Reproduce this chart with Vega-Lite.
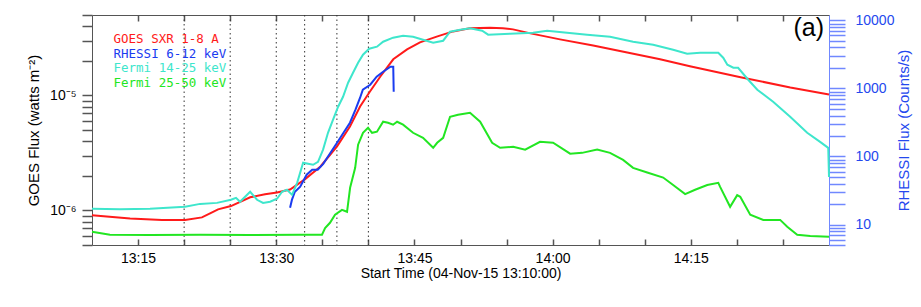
{
  "$schema": "https://vega.github.io/schema/vega-lite/v6.json",
  "width": 737,
  "height": 230,
  "autosize": {"type": "none"},
  "padding": {"left": 92, "top": 15, "right": 92, "bottom": 62},
  "background": "white",
  "config": {
    "view": {"stroke": "#555555", "strokeWidth": 1},
    "axis": {
      "labelFont": "Liberation Sans",
      "titleFont": "Liberation Sans",
      "labelFontSize": 14,
      "titleFontSize": 15,
      "titleFontWeight": "normal",
      "grid": false,
      "domain": false,
      "zindex": 2,
      "labelColor": "#000000",
      "titleColor": "#000000",
      "labelOverlap": false,
      "labelFlush": false
    },
    "legend": {
      "orient": "top-left",
      "offset": 18,
      "padding": 0,
      "title": null,
      "symbolSize": 0,
      "symbolOpacity": 0,
      "symbolStrokeWidth": 0,
      "labelOffset": -9,
      "labelFont": "DejaVu Sans Mono",
      "labelFontSize": 12.5,
      "rowPadding": 1.5,
      "labelLimit": 300
    }
  },
  "title": {
    "text": "(a)",
    "anchor": "end",
    "orient": "top",
    "frame": "group",
    "offset": -33,
    "dx": -5,
    "fontSize": 25,
    "font": "Liberation Sans",
    "fontWeight": "normal",
    "color": "#000000"
  },
  "datasets": {
    "vlines": [
      {"t": "2015-11-04T13:20:00"},
      {"t": "2015-11-04T13:25:00"},
      {"t": "2015-11-04T13:30:00"},
      {"t": "2015-11-04T13:33:05"},
      {"t": "2015-11-04T13:36:35"},
      {"t": "2015-11-04T13:40:00"}
    ],
    "goes": [
      {"t": "2015-11-04T13:10:00", "v": 9.06e-7, "s": "GOES SXR 1-8 A"},
      {"t": "2015-11-04T13:14:08", "v": 8.51e-7, "s": "GOES SXR 1-8 A"},
      {"t": "2015-11-04T13:17:36", "v": 8.26e-7, "s": "GOES SXR 1-8 A"},
      {"t": "2015-11-04T13:20:06", "v": 8.26e-7, "s": "GOES SXR 1-8 A"},
      {"t": "2015-11-04T13:21:56", "v": 8.69e-7, "s": "GOES SXR 1-8 A"},
      {"t": "2015-11-04T13:22:49", "v": 9.42e-7, "s": "GOES SXR 1-8 A"},
      {"t": "2015-11-04T13:23:41", "v": 1.02e-6, "s": "GOES SXR 1-8 A"},
      {"t": "2015-11-04T13:25:05", "v": 1.09e-6, "s": "GOES SXR 1-8 A"},
      {"t": "2015-11-04T13:27:10", "v": 1.30e-6, "s": "GOES SXR 1-8 A"},
      {"t": "2015-11-04T13:28:47", "v": 1.38e-6, "s": "GOES SXR 1-8 A"},
      {"t": "2015-11-04T13:30:05", "v": 1.43e-6, "s": "GOES SXR 1-8 A"},
      {"t": "2015-11-04T13:31:30", "v": 1.52e-6, "s": "GOES SXR 1-8 A"},
      {"t": "2015-11-04T13:33:06", "v": 1.86e-6, "s": "GOES SXR 1-8 A"},
      {"t": "2015-11-04T13:34:48", "v": 2.41e-6, "s": "GOES SXR 1-8 A"},
      {"t": "2015-11-04T13:36:36", "v": 3.6e-6, "s": "GOES SXR 1-8 A"},
      {"t": "2015-11-04T13:38:00", "v": 5.37e-6, "s": "GOES SXR 1-8 A"},
      {"t": "2015-11-04T13:39:06", "v": 8.0e-6, "s": "GOES SXR 1-8 A"},
      {"t": "2015-11-04T13:40:06", "v": 1.06e-5, "s": "GOES SXR 1-8 A"},
      {"t": "2015-11-04T13:41:18", "v": 1.46e-5, "s": "GOES SXR 1-8 A"},
      {"t": "2015-11-04T13:42:42", "v": 2.06e-5, "s": "GOES SXR 1-8 A"},
      {"t": "2015-11-04T13:44:12", "v": 2.51e-5, "s": "GOES SXR 1-8 A"},
      {"t": "2015-11-04T13:45:36", "v": 2.89e-5, "s": "GOES SXR 1-8 A"},
      {"t": "2015-11-04T13:47:30", "v": 3.26e-5, "s": "GOES SXR 1-8 A"},
      {"t": "2015-11-04T13:49:12", "v": 3.6e-5, "s": "GOES SXR 1-8 A"},
      {"t": "2015-11-04T13:51:00", "v": 3.83e-5, "s": "GOES SXR 1-8 A"},
      {"t": "2015-11-04T13:53:12", "v": 3.87e-5, "s": "GOES SXR 1-8 A"},
      {"t": "2015-11-04T13:54:36", "v": 3.83e-5, "s": "GOES SXR 1-8 A"},
      {"t": "2015-11-04T13:55:42", "v": 3.75e-5, "s": "GOES SXR 1-8 A"},
      {"t": "2015-11-04T13:57:36", "v": 3.46e-5, "s": "GOES SXR 1-8 A"},
      {"t": "2015-11-04T14:00:48", "v": 3.07e-5, "s": "GOES SXR 1-8 A"},
      {"t": "2015-11-04T14:04:24", "v": 2.72e-5, "s": "GOES SXR 1-8 A"},
      {"t": "2015-11-04T14:08:06", "v": 2.36e-5, "s": "GOES SXR 1-8 A"},
      {"t": "2015-11-04T14:11:40", "v": 2.06e-5, "s": "GOES SXR 1-8 A"},
      {"t": "2015-11-04T14:14:54", "v": 1.79e-5, "s": "GOES SXR 1-8 A"},
      {"t": "2015-11-04T14:20:24", "v": 1.44e-5, "s": "GOES SXR 1-8 A"},
      {"t": "2015-11-04T14:25:48", "v": 1.17e-5, "s": "GOES SXR 1-8 A"},
      {"t": "2015-11-04T14:30:00", "v": 1.02e-5, "s": "GOES SXR 1-8 A"}
    ],
    "hx": [
      {"t": "2015-11-04T13:31:30", "v": 17.6, "s": "RHESSI 6-12 keV"},
      {"t": "2015-11-04T13:31:42", "v": 23, "s": "RHESSI 6-12 keV"},
      {"t": "2015-11-04T13:32:00", "v": 30, "s": "RHESSI 6-12 keV"},
      {"t": "2015-11-04T13:32:36", "v": 36, "s": "RHESSI 6-12 keV"},
      {"t": "2015-11-04T13:33:18", "v": 54, "s": "RHESSI 6-12 keV"},
      {"t": "2015-11-04T13:33:54", "v": 64, "s": "RHESSI 6-12 keV"},
      {"t": "2015-11-04T13:34:30", "v": 64, "s": "RHESSI 6-12 keV"},
      {"t": "2015-11-04T13:35:06", "v": 78, "s": "RHESSI 6-12 keV"},
      {"t": "2015-11-04T13:35:36", "v": 99, "s": "RHESSI 6-12 keV"},
      {"t": "2015-11-04T13:36:36", "v": 159, "s": "RHESSI 6-12 keV"},
      {"t": "2015-11-04T13:37:18", "v": 223, "s": "RHESSI 6-12 keV"},
      {"t": "2015-11-04T13:38:00", "v": 313, "s": "RHESSI 6-12 keV"},
      {"t": "2015-11-04T13:38:36", "v": 487, "s": "RHESSI 6-12 keV"},
      {"t": "2015-11-04T13:39:06", "v": 730, "s": "RHESSI 6-12 keV"},
      {"t": "2015-11-04T13:39:24", "v": 957, "s": "RHESSI 6-12 keV"},
      {"t": "2015-11-04T13:40:12", "v": 1133, "s": "RHESSI 6-12 keV"},
      {"t": "2015-11-04T13:40:54", "v": 1485, "s": "RHESSI 6-12 keV"},
      {"t": "2015-11-04T13:41:36", "v": 1760, "s": "RHESSI 6-12 keV"},
      {"t": "2015-11-04T13:42:24", "v": 2085, "s": "RHESSI 6-12 keV"},
      {"t": "2015-11-04T13:42:42", "v": 2085, "s": "RHESSI 6-12 keV"},
      {"t": "2015-11-04T13:42:45", "v": 893, "s": "RHESSI 6-12 keV"},

      {"t": "2015-11-04T13:10:00", "v": 17.0, "s": "Fermi 14-25 keV"},
      {"t": "2015-11-04T13:13:02", "v": 16.8, "s": "Fermi 14-25 keV"},
      {"t": "2015-11-04T13:16:18", "v": 17.0, "s": "Fermi 14-25 keV"},
      {"t": "2015-11-04T13:20:06", "v": 18.2, "s": "Fermi 14-25 keV"},
      {"t": "2015-11-04T13:21:44", "v": 20.1, "s": "Fermi 14-25 keV"},
      {"t": "2015-11-04T13:23:34", "v": 20.8, "s": "Fermi 14-25 keV"},
      {"t": "2015-11-04T13:25:05", "v": 23.1, "s": "Fermi 14-25 keV"},
      {"t": "2015-11-04T13:25:38", "v": 24.7, "s": "Fermi 14-25 keV"},
      {"t": "2015-11-04T13:26:04", "v": 21.6, "s": "Fermi 14-25 keV"},
      {"t": "2015-11-04T13:27:10", "v": 30.3, "s": "Fermi 14-25 keV"},
      {"t": "2015-11-04T13:27:55", "v": 23.1, "s": "Fermi 14-25 keV"},
      {"t": "2015-11-04T13:28:34", "v": 20.8, "s": "Fermi 14-25 keV"},
      {"t": "2015-11-04T13:29:20", "v": 21.6, "s": "Fermi 14-25 keV"},
      {"t": "2015-11-04T13:30:05", "v": 23.9, "s": "Fermi 14-25 keV"},
      {"t": "2015-11-04T13:30:38", "v": 30.3, "s": "Fermi 14-25 keV"},
      {"t": "2015-11-04T13:31:10", "v": 32.4, "s": "Fermi 14-25 keV"},
      {"t": "2015-11-04T13:31:43", "v": 27.3, "s": "Fermi 14-25 keV"},
      {"t": "2015-11-04T13:32:16", "v": 41.0, "s": "Fermi 14-25 keV"},
      {"t": "2015-11-04T13:32:55", "v": 80.8, "s": "Fermi 14-25 keV"},
      {"t": "2015-11-04T13:33:27", "v": 78, "s": "Fermi 14-25 keV"},
      {"t": "2015-11-04T13:34:00", "v": 75.5, "s": "Fermi 14-25 keV"},
      {"t": "2015-11-04T13:34:32", "v": 83.6, "s": "Fermi 14-25 keV"},
      {"t": "2015-11-04T13:35:05", "v": 126, "s": "Fermi 14-25 keV"},
      {"t": "2015-11-04T13:35:37", "v": 223, "s": "Fermi 14-25 keV"},
      {"t": "2015-11-04T13:36:10", "v": 347, "s": "Fermi 14-25 keV"},
      {"t": "2015-11-04T13:36:43", "v": 538, "s": "Fermi 14-25 keV"},
      {"t": "2015-11-04T13:37:15", "v": 755, "s": "Fermi 14-25 keV"},
      {"t": "2015-11-04T13:37:48", "v": 1213, "s": "Fermi 14-25 keV"},
      {"t": "2015-11-04T13:38:20", "v": 1702, "s": "Fermi 14-25 keV"},
      {"t": "2015-11-04T13:38:53", "v": 2387, "s": "Fermi 14-25 keV"},
      {"t": "2015-11-04T13:39:25", "v": 3131, "s": "Fermi 14-25 keV"},
      {"t": "2015-11-04T13:40:05", "v": 3837, "s": "Fermi 14-25 keV"},
      {"t": "2015-11-04T13:40:56", "v": 4105, "s": "Fermi 14-25 keV"},
      {"t": "2015-11-04T13:41:36", "v": 4861, "s": "Fermi 14-25 keV"},
      {"t": "2015-11-04T13:42:41", "v": 5568, "s": "Fermi 14-25 keV"},
      {"t": "2015-11-04T13:43:46", "v": 5957, "s": "Fermi 14-25 keV"},
      {"t": "2015-11-04T13:44:51", "v": 5757, "s": "Fermi 14-25 keV"},
      {"t": "2015-11-04T13:45:56", "v": 5197, "s": "Fermi 14-25 keV"},
      {"t": "2015-11-04T13:47:02", "v": 4699, "s": "Fermi 14-25 keV"},
      {"t": "2015-11-04T13:48:07", "v": 5025, "s": "Fermi 14-25 keV"},
      {"t": "2015-11-04T13:48:52", "v": 6822, "s": "Fermi 14-25 keV"},
      {"t": "2015-11-04T13:49:58", "v": 7295, "s": "Fermi 14-25 keV"},
      {"t": "2015-11-04T13:51:02", "v": 7680, "s": "Fermi 14-25 keV"},
      {"t": "2015-11-04T13:52:21", "v": 7063, "s": "Fermi 14-25 keV"},
      {"t": "2015-11-04T13:53:00", "v": 6166, "s": "Fermi 14-25 keV"},
      {"t": "2015-11-04T13:55:23", "v": 6372, "s": "Fermi 14-25 keV"},
      {"t": "2015-11-04T13:57:53", "v": 6588, "s": "Fermi 14-25 keV"},
      {"t": "2015-11-04T13:59:24", "v": 7063, "s": "Fermi 14-25 keV"},
      {"t": "2015-11-04T14:01:34", "v": 6588, "s": "Fermi 14-25 keV"},
      {"t": "2015-11-04T14:03:45", "v": 6166, "s": "Fermi 14-25 keV"},
      {"t": "2015-11-04T14:06:14", "v": 5757, "s": "Fermi 14-25 keV"},
      {"t": "2015-11-04T14:08:44", "v": 4861, "s": "Fermi 14-25 keV"},
      {"t": "2015-11-04T14:10:55", "v": 4394, "s": "Fermi 14-25 keV"},
      {"t": "2015-11-04T14:13:05", "v": 3707, "s": "Fermi 14-25 keV"},
      {"t": "2015-11-04T14:14:36", "v": 3236, "s": "Fermi 14-25 keV"},
      {"t": "2015-11-04T14:16:01", "v": 3350, "s": "Fermi 14-25 keV"},
      {"t": "2015-11-04T14:17:59", "v": 3350, "s": "Fermi 14-25 keV"},
      {"t": "2015-11-04T14:18:31", "v": 2827, "s": "Fermi 14-25 keV"},
      {"t": "2015-11-04T14:18:58", "v": 2231, "s": "Fermi 14-25 keV"},
      {"t": "2015-11-04T14:19:37", "v": 2014, "s": "Fermi 14-25 keV"},
      {"t": "2015-11-04T14:20:08", "v": 2014, "s": "Fermi 14-25 keV"},
      {"t": "2015-11-04T14:21:14", "v": 1342, "s": "Fermi 14-25 keV"},
      {"t": "2015-11-04T14:22:13", "v": 957, "s": "Fermi 14-25 keV"},
      {"t": "2015-11-04T14:23:56", "v": 637, "s": "Fermi 14-25 keV"},
      {"t": "2015-11-04T14:25:47", "v": 384, "s": "Fermi 14-25 keV"},
      {"t": "2015-11-04T14:27:38", "v": 223, "s": "Fermi 14-25 keV"},
      {"t": "2015-11-04T14:29:02", "v": 164, "s": "Fermi 14-25 keV"},
      {"t": "2015-11-04T14:29:55", "v": 134, "s": "Fermi 14-25 keV"},
      {"t": "2015-11-04T14:30:00", "v": 50, "s": "Fermi 14-25 keV"},

      {"t": "2015-11-04T13:10:00", "v": 7.8, "s": "Fermi 25-50 keV"},
      {"t": "2015-11-04T13:11:57", "v": 7.06, "s": "Fermi 25-50 keV"},
      {"t": "2015-11-04T13:16:18", "v": 7.0, "s": "Fermi 25-50 keV"},
      {"t": "2015-11-04T13:21:44", "v": 7.1, "s": "Fermi 25-50 keV"},
      {"t": "2015-11-04T13:27:10", "v": 7.0, "s": "Fermi 25-50 keV"},
      {"t": "2015-11-04T13:32:35", "v": 7.1, "s": "Fermi 25-50 keV"},
      {"t": "2015-11-04T13:34:58", "v": 7.1, "s": "Fermi 25-50 keV"},
      {"t": "2015-11-04T13:35:18", "v": 8.9, "s": "Fermi 25-50 keV"},
      {"t": "2015-11-04T13:35:50", "v": 10.6, "s": "Fermi 25-50 keV"},
      {"t": "2015-11-04T13:36:23", "v": 13.9, "s": "Fermi 25-50 keV"},
      {"t": "2015-11-04T13:37:08", "v": 16.4, "s": "Fermi 25-50 keV"},
      {"t": "2015-11-04T13:37:41", "v": 15.4, "s": "Fermi 25-50 keV"},
      {"t": "2015-11-04T13:38:01", "v": 34.7, "s": "Fermi 25-50 keV"},
      {"t": "2015-11-04T13:38:34", "v": 68, "s": "Fermi 25-50 keV"},
      {"t": "2015-11-04T13:38:53", "v": 149, "s": "Fermi 25-50 keV"},
      {"t": "2015-11-04T13:39:25", "v": 223, "s": "Fermi 25-50 keV"},
      {"t": "2015-11-04T13:39:58", "v": 264, "s": "Fermi 25-50 keV"},
      {"t": "2015-11-04T13:40:24", "v": 223, "s": "Fermi 25-50 keV"},
      {"t": "2015-11-04T13:40:56", "v": 231, "s": "Fermi 25-50 keV"},
      {"t": "2015-11-04T13:41:36", "v": 324, "s": "Fermi 25-50 keV"},
      {"t": "2015-11-04T13:42:08", "v": 313, "s": "Fermi 25-50 keV"},
      {"t": "2015-11-04T13:42:41", "v": 293, "s": "Fermi 25-50 keV"},
      {"t": "2015-11-04T13:43:07", "v": 324, "s": "Fermi 25-50 keV"},
      {"t": "2015-11-04T13:43:46", "v": 293, "s": "Fermi 25-50 keV"},
      {"t": "2015-11-04T13:44:51", "v": 223, "s": "Fermi 25-50 keV"},
      {"t": "2015-11-04T13:45:56", "v": 188, "s": "Fermi 25-50 keV"},
      {"t": "2015-11-04T13:47:02", "v": 134, "s": "Fermi 25-50 keV"},
      {"t": "2015-11-04T13:47:28", "v": 159, "s": "Fermi 25-50 keV"},
      {"t": "2015-11-04T13:48:07", "v": 188, "s": "Fermi 25-50 keV"},
      {"t": "2015-11-04T13:48:52", "v": 384, "s": "Fermi 25-50 keV"},
      {"t": "2015-11-04T13:49:44", "v": 411, "s": "Fermi 25-50 keV"},
      {"t": "2015-11-04T13:51:02", "v": 440, "s": "Fermi 25-50 keV"},
      {"t": "2015-11-04T13:52:08", "v": 324, "s": "Fermi 25-50 keV"},
      {"t": "2015-11-04T13:53:26", "v": 159, "s": "Fermi 25-50 keV"},
      {"t": "2015-11-04T13:54:18", "v": 134, "s": "Fermi 25-50 keV"},
      {"t": "2015-11-04T13:55:43", "v": 139, "s": "Fermi 25-50 keV"},
      {"t": "2015-11-04T13:57:01", "v": 126, "s": "Fermi 25-50 keV"},
      {"t": "2015-11-04T13:58:38", "v": 164, "s": "Fermi 25-50 keV"},
      {"t": "2015-11-04T14:00:03", "v": 159, "s": "Fermi 25-50 keV"},
      {"t": "2015-11-04T14:01:54", "v": 110, "s": "Fermi 25-50 keV"},
      {"t": "2015-11-04T14:03:12", "v": 113, "s": "Fermi 25-50 keV"},
      {"t": "2015-11-04T14:04:50", "v": 126, "s": "Fermi 25-50 keV"},
      {"t": "2015-11-04T14:06:14", "v": 113, "s": "Fermi 25-50 keV"},
      {"t": "2015-11-04T14:07:39", "v": 89, "s": "Fermi 25-50 keV"},
      {"t": "2015-11-04T14:08:44", "v": 68, "s": "Fermi 25-50 keV"},
      {"t": "2015-11-04T14:10:16", "v": 58, "s": "Fermi 25-50 keV"},
      {"t": "2015-11-04T14:12:00", "v": 49, "s": "Fermi 25-50 keV"},
      {"t": "2015-11-04T14:13:05", "v": 38, "s": "Fermi 25-50 keV"},
      {"t": "2015-11-04T14:14:23", "v": 28, "s": "Fermi 25-50 keV"},
      {"t": "2015-11-04T14:15:28", "v": 32.4, "s": "Fermi 25-50 keV"},
      {"t": "2015-11-04T14:16:47", "v": 38, "s": "Fermi 25-50 keV"},
      {"t": "2015-11-04T14:17:59", "v": 41, "s": "Fermi 25-50 keV"},
      {"t": "2015-11-04T14:18:11", "v": 35.8, "s": "Fermi 25-50 keV"},
      {"t": "2015-11-04T14:19:16", "v": 18.2, "s": "Fermi 25-50 keV"},
      {"t": "2015-11-04T14:20:02", "v": 27, "s": "Fermi 25-50 keV"},
      {"t": "2015-11-04T14:20:22", "v": 25.5, "s": "Fermi 25-50 keV"},
      {"t": "2015-11-04T14:21:27", "v": 13.9, "s": "Fermi 25-50 keV"},
      {"t": "2015-11-04T14:22:52", "v": 11.7, "s": "Fermi 25-50 keV"},
      {"t": "2015-11-04T14:24:42", "v": 11.7, "s": "Fermi 25-50 keV"},
      {"t": "2015-11-04T14:25:28", "v": 9.25, "s": "Fermi 25-50 keV"},
      {"t": "2015-11-04T14:26:33", "v": 7.06, "s": "Fermi 25-50 keV"},
      {"t": "2015-11-04T14:27:58", "v": 6.8, "s": "Fermi 25-50 keV"},
      {"t": "2015-11-04T14:30:00", "v": 6.6, "s": "Fermi 25-50 keV"}
    ]
  },
  "layer": [
    {
      "data": {"name": "vlines"},
      "mark": {"type": "rule", "color": "#333333", "strokeWidth": 1, "strokeDash": [1.5, 3]},
      "encoding": {
        "x": {
          "field": "t",
          "type": "temporal",
          "scale": {"domain": [
            {"year": 2015, "month": 11, "date": 4, "hours": 13, "minutes": 10},
            {"year": 2015, "month": 11, "date": 4, "hours": 14, "minutes": 30}
          ]},
          "axis": {
            "orient": "bottom",
            "ticks": false,
            "values": [
              {"year": 2015, "month": 11, "date": 4, "hours": 13, "minutes": 15},
              {"year": 2015, "month": 11, "date": 4, "hours": 13, "minutes": 30},
              {"year": 2015, "month": 11, "date": 4, "hours": 13, "minutes": 45},
              {"year": 2015, "month": 11, "date": 4, "hours": 14, "minutes": 0},
              {"year": 2015, "month": 11, "date": 4, "hours": 14, "minutes": 15}
            ],
            "format": "%H:%M",
            "labelPadding": 6,
            "title": "Start Time (04-Nov-15 13:10:00)",
            "titleFontSize": 14,
            "titlePadding": 1
          }
        }
      }
    },
    {
      "data": {"name": "goes"},
      "mark": {"type": "line", "strokeWidth": 2},
      "encoding": {
        "x": {
          "field": "t",
          "type": "temporal",
          "scale": {"domain": [
            {"year": 2015, "month": 11, "date": 4, "hours": 13, "minutes": 10},
            {"year": 2015, "month": 11, "date": 4, "hours": 14, "minutes": 30}
          ]},
          "axis": {
            "orient": "top",
            "offset": -230,
            "labels": false,
            "title": null,
            "ticks": true,
            "tickColor": "#555555",
            "tickWidth": 1.5,
            "tickSize": 6,
            "values": [
              {"year": 2015, "month": 11, "date": 4, "hours": 13, "minutes": 15},
              {"year": 2015, "month": 11, "date": 4, "hours": 13, "minutes": 20},
              {"year": 2015, "month": 11, "date": 4, "hours": 13, "minutes": 25},
              {"year": 2015, "month": 11, "date": 4, "hours": 13, "minutes": 30},
              {"year": 2015, "month": 11, "date": 4, "hours": 13, "minutes": 35},
              {"year": 2015, "month": 11, "date": 4, "hours": 13, "minutes": 40},
              {"year": 2015, "month": 11, "date": 4, "hours": 13, "minutes": 45},
              {"year": 2015, "month": 11, "date": 4, "hours": 13, "minutes": 50},
              {"year": 2015, "month": 11, "date": 4, "hours": 13, "minutes": 55},
              {"year": 2015, "month": 11, "date": 4, "hours": 14, "minutes": 0},
              {"year": 2015, "month": 11, "date": 4, "hours": 14, "minutes": 5},
              {"year": 2015, "month": 11, "date": 4, "hours": 14, "minutes": 10},
              {"year": 2015, "month": 11, "date": 4, "hours": 14, "minutes": 15},
              {"year": 2015, "month": 11, "date": 4, "hours": 14, "minutes": 20},
              {"year": 2015, "month": 11, "date": 4, "hours": 14, "minutes": 25}
            ]
          }
        },
        "y": {
          "field": "v",
          "type": "quantitative",
          "scale": {"type": "log", "domain": [5e-7, 5e-5], "nice": false},
          "axis": {
            "orient": "left",
            "values": [5e-7, 6e-7, 7e-7, 8e-7, 9e-7, 1e-6, 2e-6, 3e-6, 4e-6, 5e-6, 6e-6, 7e-6, 8e-6, 9e-6, 1e-5, 2e-5, 3e-5, 4e-5, 5e-5],
            "labelExpr": "datum.value == 1e-5 ? '10⁻⁵' : (datum.value == 1e-6 ? '10⁻⁶' : '')",
            "ticks": true,
            "tickColor": "#555555",
            "tickWidth": 1.5,
            "tickSize": 10,
            "labelPadding": 6,
            "title": "GOES Flux (watts m⁻²)",
            "titlePadding": 8
          }
        },
        "color": {
          "field": "s",
          "type": "nominal",
          "scale": {
            "domain": ["GOES SXR 1-8 A", "RHESSI 6-12 keV", "Fermi 14-25 keV", "Fermi 25-50 keV"],
            "range": ["#ff1a1a", "#1a3cf0", "#3ee6cc", "#22e622"]
          },
          "legend": {
            "encode": {"labels": {"update": {"fill": {"scale": "color", "field": "value"}}}}
          }
        }
      }
    },
    {
      "data": {"name": "hx"},
      "mark": {"type": "line", "strokeWidth": 2},
      "encoding": {
        "x": {
          "field": "t",
          "type": "temporal",
          "scale": {"domain": [
            {"year": 2015, "month": 11, "date": 4, "hours": 13, "minutes": 10},
            {"year": 2015, "month": 11, "date": 4, "hours": 14, "minutes": 30}
          ]},
          "axis": {
            "orient": "bottom",
            "offset": -230,
            "labels": false,
            "title": null,
            "ticks": true,
            "tickColor": "#555555",
            "tickWidth": 1.5,
            "tickSize": 6,
            "values": [
              {"year": 2015, "month": 11, "date": 4, "hours": 13, "minutes": 15},
              {"year": 2015, "month": 11, "date": 4, "hours": 13, "minutes": 20},
              {"year": 2015, "month": 11, "date": 4, "hours": 13, "minutes": 25},
              {"year": 2015, "month": 11, "date": 4, "hours": 13, "minutes": 30},
              {"year": 2015, "month": 11, "date": 4, "hours": 13, "minutes": 35},
              {"year": 2015, "month": 11, "date": 4, "hours": 13, "minutes": 40},
              {"year": 2015, "month": 11, "date": 4, "hours": 13, "minutes": 45},
              {"year": 2015, "month": 11, "date": 4, "hours": 13, "minutes": 50},
              {"year": 2015, "month": 11, "date": 4, "hours": 13, "minutes": 55},
              {"year": 2015, "month": 11, "date": 4, "hours": 14, "minutes": 0},
              {"year": 2015, "month": 11, "date": 4, "hours": 14, "minutes": 5},
              {"year": 2015, "month": 11, "date": 4, "hours": 14, "minutes": 10},
              {"year": 2015, "month": 11, "date": 4, "hours": 14, "minutes": 15},
              {"year": 2015, "month": 11, "date": 4, "hours": 14, "minutes": 20},
              {"year": 2015, "month": 11, "date": 4, "hours": 14, "minutes": 25}
            ]
          }
        },
        "y": {
          "field": "v",
          "type": "quantitative",
          "scale": {"type": "log", "domain": [5, 12000], "nice": false},
          "axis": {
            "orient": "right",
            "domain": true,
            "domainColor": "#7088ff",
            "ticks": true,
            "tickColor": "#7088ff",
            "tickWidth": 1.5,
            "labelColor": "#2448ee",
            "titleColor": "#2448ee",
            "format": "d",
            "values": [5, 6, 7, 8, 9, 10, 20, 30, 40, 50, 60, 70, 80, 90, 100, 200, 300, 400, 500, 600, 700, 800, 900, 1000, 2000, 3000, 4000, 5000, 6000, 7000, 8000, 9000, 10000],
            "labelExpr": "(datum.value == 10 || datum.value == 100 || datum.value == 1000 || datum.value == 10000) ? datum.label : ''",
            "tickSize": 16,
            "labelPadding": 10,
            "title": "RHESSI Flux (Counts/s)",
            "titleAngle": 270,
            "titlePadding": 18
          }
        },
        "color": {
          "field": "s",
          "type": "nominal",
          "scale": {
            "domain": ["GOES SXR 1-8 A", "RHESSI 6-12 keV", "Fermi 14-25 keV", "Fermi 25-50 keV"],
            "range": ["#ff1a1a", "#1a3cf0", "#3ee6cc", "#22e622"]
          },
          "legend": {
            "encode": {"labels": {"update": {"fill": {"scale": "color", "field": "value"}}}}
          }
        }
      }
    }
  ],
  "resolve": {
    "scale": {"y": "independent"},
    "axis": {"x": "independent", "y": "independent"}
  }
}
